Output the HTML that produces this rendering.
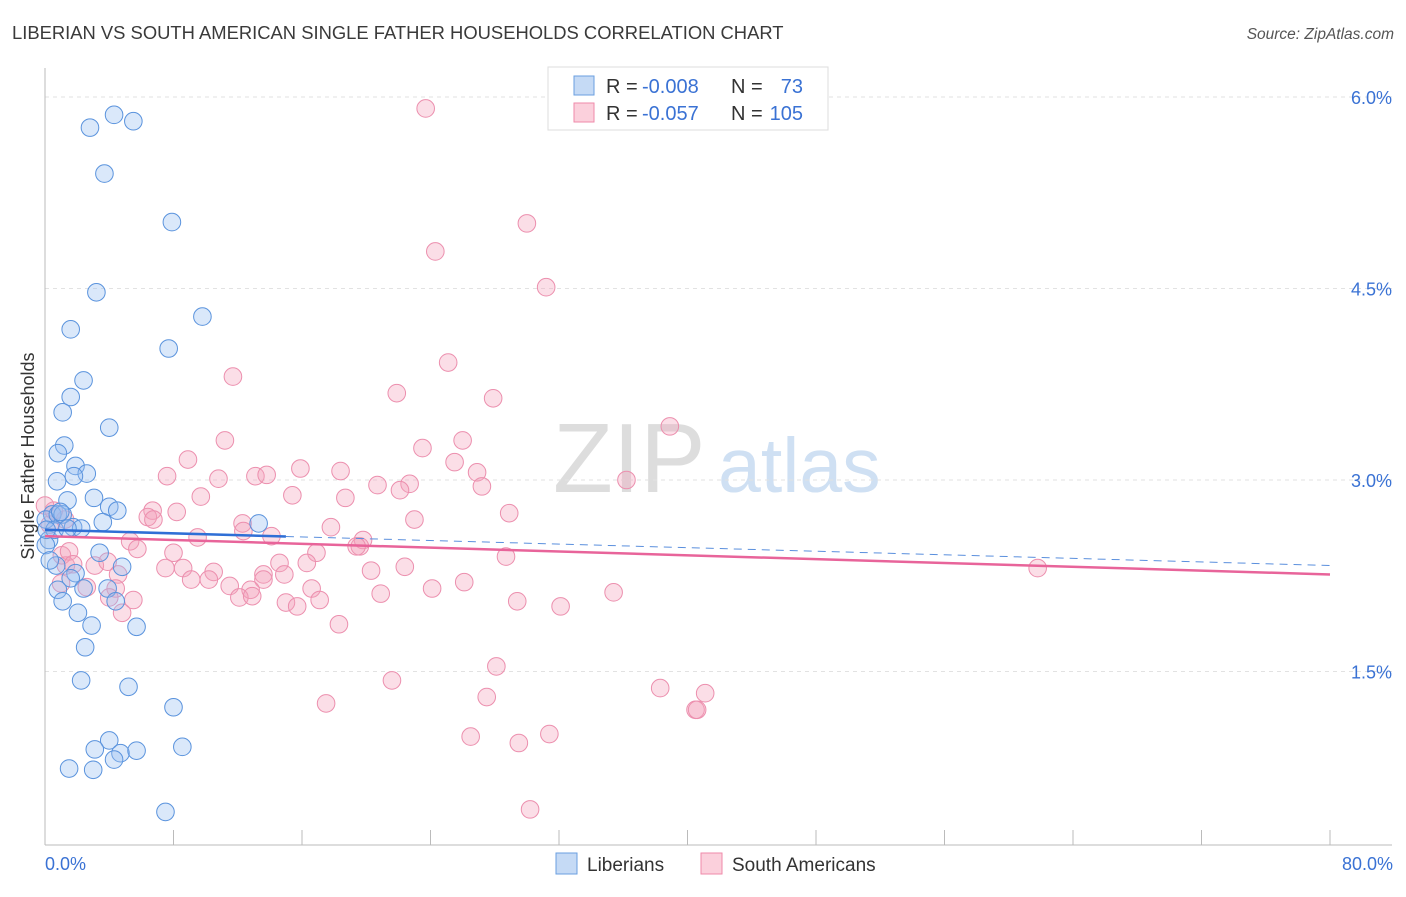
<!DOCTYPE html>
<html><head><meta charset="utf-8"><style>
body{margin:0;background:#fff;font-family:"Liberation Sans",sans-serif}
svg text{font-family:"Liberation Sans",sans-serif}
</style></head><body>
<svg id="c" width="1406" height="892">
<text x="12" y="39" font-size="18.4" fill="#3a3a3a">LIBERIAN VS SOUTH AMERICAN SINGLE FATHER HOUSEHOLDS CORRELATION CHART</text>
<text x="1394" y="39" font-size="15.5" fill="#555" font-style="italic" text-anchor="end">Source: ZipAtlas.com</text>
<text x="553" y="492" font-size="98" fill="#ddd" font-family="Liberation Serif,serif">ZIP</text>
<text x="718" y="492" font-size="77" fill="#cfe0f3">atlas</text>
<g id="grid"></g><g id="marks"></g>
<text transform="translate(34,456) rotate(-90)" font-size="18" fill="#333" text-anchor="middle">Single Father Households</text>
<g>
<rect x="548" y="67" width="280" height="63" fill="#fff" stroke="#ddd"/>
<rect x="574" y="76" width="20" height="19" fill="#c5daf5" stroke="#6a9fe0"/>
<rect x="574" y="103" width="20" height="19" fill="#fbd0dc" stroke="#ef8aaa"/>
<text x="606" y="93" font-size="20" fill="#333">R =</text>
<text x="642" y="93" font-size="20" fill="#3a72d4">-0.008</text>
<text x="731" y="93" font-size="20" fill="#333">N =</text>
<text x="803" y="93" font-size="20" fill="#3a72d4" text-anchor="end">73</text>
<text x="606" y="120" font-size="20" fill="#333">R =</text>
<text x="642" y="120" font-size="20" fill="#3a72d4">-0.057</text>
<text x="731" y="120" font-size="20" fill="#333">N =</text>
<text x="803" y="120" font-size="20" fill="#3a72d4" text-anchor="end">105</text>
</g>
<g>
<rect x="556" y="853" width="21" height="21" fill="#c5daf5" stroke="#6a9fe0"/>
<text x="587" y="871" font-size="19" fill="#333">Liberians</text>
<rect x="701" y="853" width="21" height="21" fill="#fbd0dc" stroke="#ef8aaa"/>
<text x="732" y="871" font-size="19" fill="#333">South Americans</text>
</g>
</svg>
<script>
const yTicks=[1.5,3.0,4.5,6.0];
const xTickLabels=["0.0%","80.0%"];
const blueX=[2.8,4.3,5.5,3.7,7.9,3.2,9.8,1.6,7.7,2.4,1.6,1.1,4.0,1.2,0.8,1.9,2.6,1.8,0.75,3.05,4.0,4.5,1.4,3.6,1.75,0.45,0.05,0.8,1.1,2.25,0.25,0.6,1.4,0.95,13.3,3.4,0.05,4.8,1.9,0.7,1.6,0.8,2.4,3.9,4.4,1.1,2.05,2.9,5.7,2.5,2.25,5.2,8.0,4.0,3.1,4.7,5.7,8.55,4.3,1.5,3.0,7.5,0.3,0.1];
const blueY=[5.76,5.86,5.81,5.40,5.02,4.47,4.28,4.18,4.03,3.78,3.65,3.53,3.41,3.27,3.21,3.11,3.05,3.03,2.99,2.86,2.79,2.76,2.84,2.67,2.63,2.73,2.69,2.73,2.73,2.62,2.53,2.61,2.62,2.75,2.66,2.43,2.49,2.32,2.27,2.33,2.23,2.14,2.15,2.15,2.05,2.05,1.96,1.86,1.85,1.69,1.43,1.38,1.22,0.96,0.89,0.86,0.88,0.91,0.81,0.74,0.73,0.40,2.37,2.61];
const pinkX=[23.7,30.0,24.3,31.2,25.1,11.7,21.9,27.9,38.9,11.2,26.0,23.5,8.9,25.5,18.4,26.9,7.6,13.1,13.8,15.9,10.8,36.2,27.2,20.7,22.7,22.1,9.7,15.4,18.7,6.7,8.2,6.4,6.75,23.0,28.9,12.3,17.8,12.35,14.1,9.5,19.8,19.6,5.3,19.4,5.75,1.05,1.3,1.5,8.0,16.9,28.7,1.75,3.1,3.9,1.0,7.5,8.6,10.5,14.6,16.3,20.3,22.4,4.55,13.6,14.9,13.6,9.1,10.2,26.1,2.6,11.5,12.8,4.4,5.5,24.1,16.6,20.9,12.1,12.9,15.0,4.0,17.1,29.4,35.4,32.1,15.7,4.8,18.3,28.1,21.6,38.3,27.5,41.1,17.5,40.5,40.6,26.5,29.5,31.4,30.2,61.8,1.25,0.55,0.0,0.3];
const pinkY=[5.91,5.01,4.79,4.51,3.92,3.81,3.68,3.64,3.42,3.31,3.31,3.25,3.16,3.14,3.07,3.06,3.03,3.03,3.04,3.09,3.01,3.00,2.95,2.96,2.97,2.92,2.87,2.88,2.86,2.76,2.75,2.71,2.69,2.69,2.74,2.66,2.63,2.60,2.56,2.55,2.53,2.48,2.52,2.48,2.46,2.41,2.33,2.44,2.43,2.43,2.40,2.34,2.33,2.36,2.19,2.31,2.31,2.28,2.35,2.35,2.29,2.32,2.26,2.26,2.26,2.22,2.22,2.22,2.20,2.16,2.17,2.14,2.15,2.06,2.15,2.15,2.11,2.08,2.09,2.04,2.08,2.06,2.05,2.12,2.01,2.01,1.96,1.87,1.54,1.43,1.37,1.30,1.33,1.25,1.20,1.20,0.99,0.94,1.01,0.42,2.31,2.69,2.76,2.80,2.65];
const blueTrend=[2.61,2.33];
const pinkTrend=[2.56,2.26];
const NS="http://www.w3.org/2000/svg";
const X=v=>45+v*16.0625, Y=v=>863-v*127.67;
function mk(t,a,p){const e=document.createElementNS(NS,t);for(const k in a)e.setAttribute(k,a[k]);p.appendChild(e);return e;}
const grid=document.getElementById('grid'),marks=document.getElementById('marks');
yTicks.forEach(t=>{
 const l=mk('line',{x1:45,x2:1392,y1:Y(t),y2:Y(t),stroke:'#e2e2e2','stroke-dasharray':'4,4'},grid);
 
 
 const tx=mk('text',{x:1392,y:Y(t)+7,'font-size':18,fill:'#3a72d4','text-anchor':'end'},grid);
 tx.textContent=t.toFixed(1)+'%';
 
 
});
mk('line',{x1:45,x2:45,y1:68,y2:845,stroke:'#bbb'},grid);
mk('line',{x1:45,x2:1392,y1:845,y2:845,stroke:'#bbb'},grid);
for(let i=1;i<=10;i++){mk('line',{x1:X(i*8),x2:X(i*8),y1:830,y2:845,stroke:'#bbb'},grid);}
const xl0=mk('text',{x:45,y:870,'font-size':18,fill:'#3a72d4'},grid);xl0.textContent=xTickLabels[0];


const xl1=mk('text',{x:1393,y:870,'font-size':18,fill:'#3a72d4','text-anchor':'end'},grid);xl1.textContent=xTickLabels[1];


pinkX.forEach((x,i)=>{const c=mk('circle',{cx:X(x),cy:Y(pinkY[i]),r:8.8,fill:'rgba(244,160,186,0.35)',stroke:'#ec8fae','stroke-width':1},marks);
 
 });
blueX.forEach((x,i)=>{const c=mk('circle',{cx:X(x),cy:Y(blueY[i]),r:8.8,fill:'rgba(150,190,240,0.35)',stroke:'#5a93dd','stroke-width':1},marks);
 
 });
const bAt=v=>blueTrend[0]+(blueTrend[1]-blueTrend[0])*v/80;
const pAt=v=>pinkTrend[0]+(pinkTrend[1]-pinkTrend[0])*v/80;
const pl=mk('line',{x1:X(0),y1:Y(pAt(0)),x2:X(80),y2:Y(pAt(80)),stroke:'#e8649a','stroke-width':2.5},marks);


const bl=mk('line',{x1:X(0),y1:Y(bAt(0)),x2:X(15),y2:Y(bAt(15)),stroke:'#2f6fd6','stroke-width':2.5},marks);


const bd=mk('line',{x1:X(15),y1:Y(bAt(15)),x2:X(80),y2:Y(bAt(80)),stroke:'#5a8fdd','stroke-width':1,'stroke-dasharray':'8,6'},marks);


</script>
</body></html>
